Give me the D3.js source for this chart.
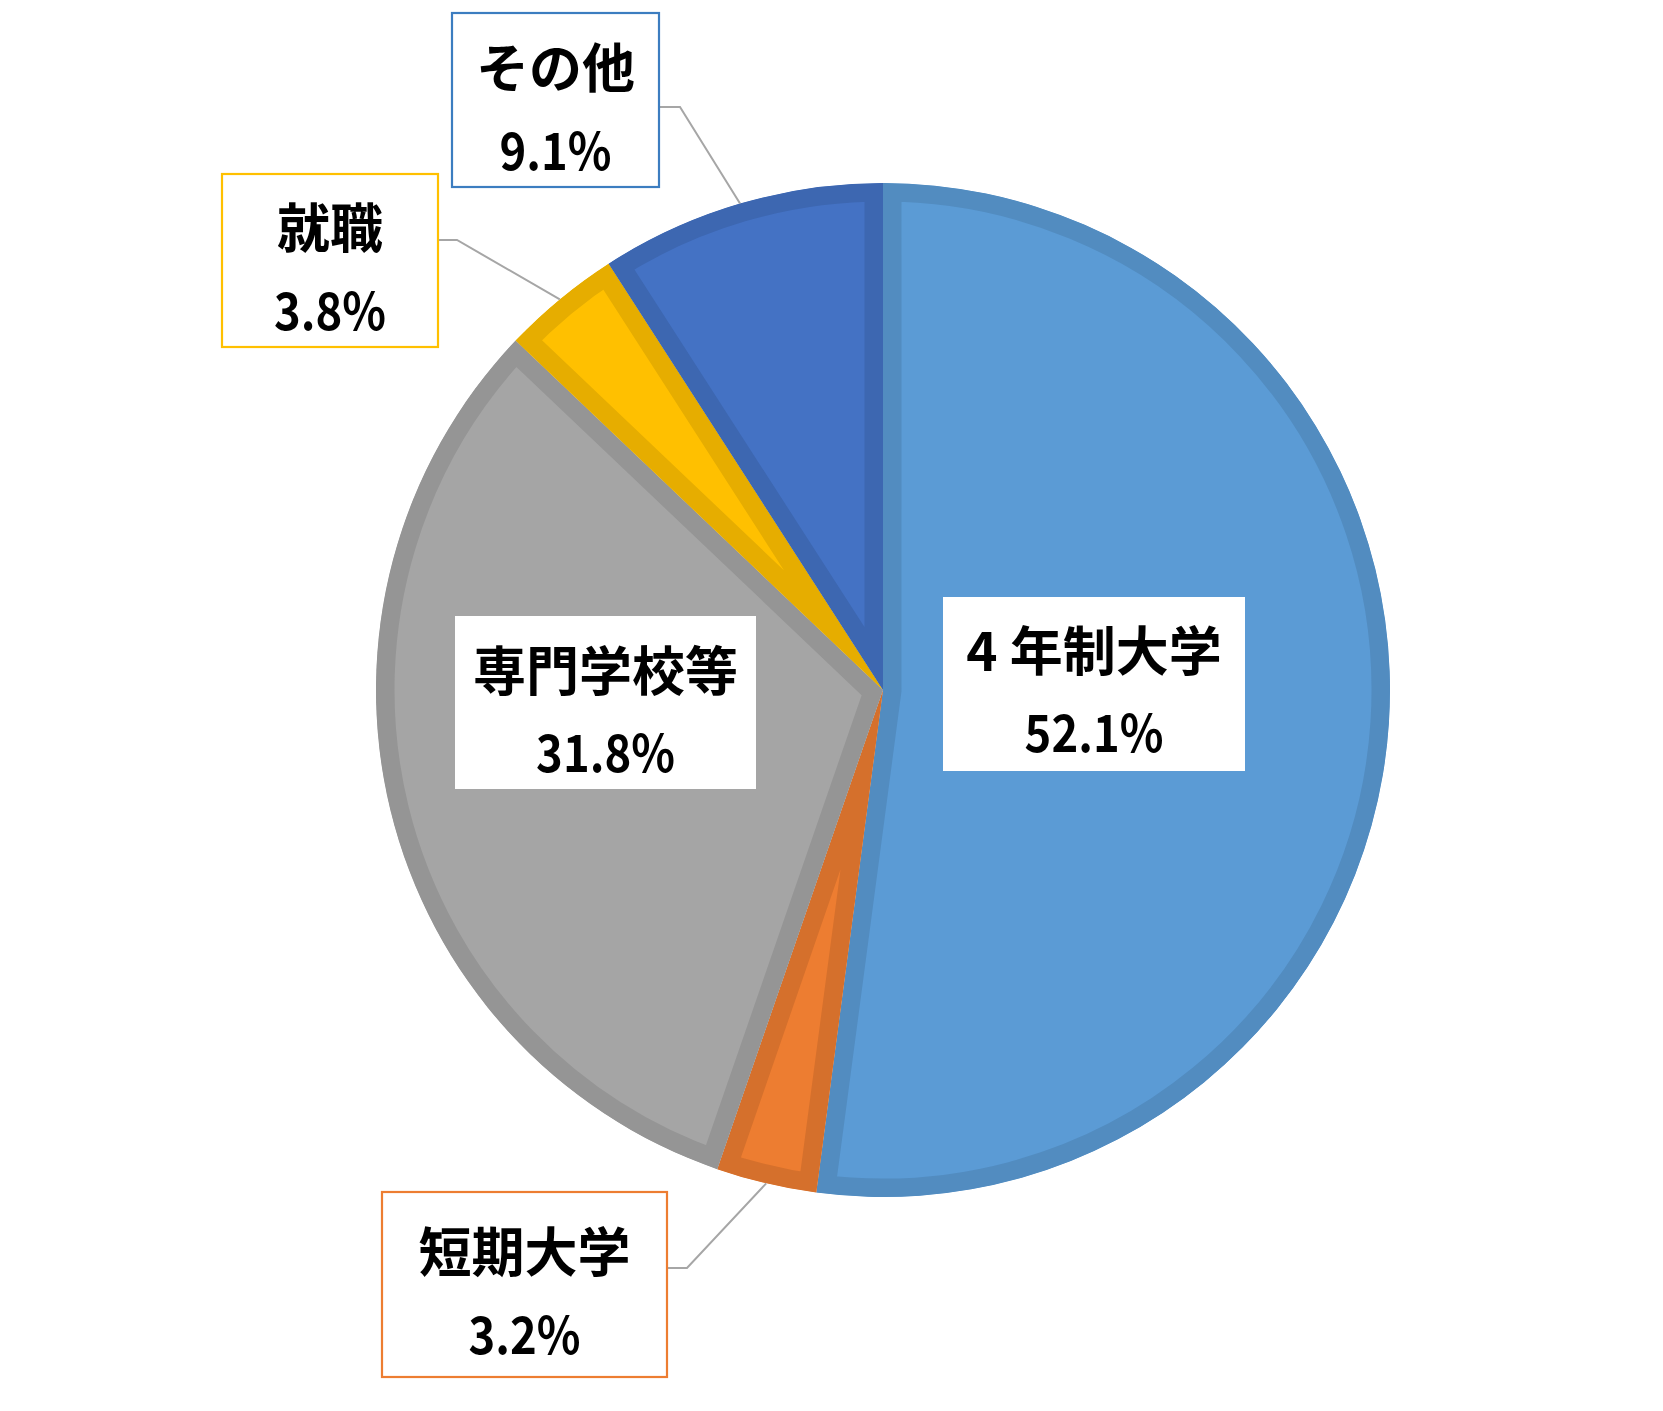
<!DOCTYPE html>
<html>
<head>
<meta charset="utf-8">
<script src="https://cdn.jsdelivr.net/npm/d3@7"></script>
<style>
  html, body { margin: 0; padding: 0; background: #ffffff; }
  svg { display: block; }
  text { font-family: "Noto Sans CJK JP", "Noto Sans", sans-serif; font-weight: bold; fill: #000; }
</style>
</head>
<body>
<svg id="chart" width="1663" height="1411"></svg>
<script>
// ---- data ----
const categories = ["4 年制大学", "短期大学", "専門学校等", "就職", "その他"];
const values = [52.1, 3.2, 31.8, 3.8, 9.1];
const fillColors = ["#5B9BD5", "#ED7D31", "#A5A5A5", "#FFC000", "#4472C4"];
const edgeColors = ["#528CC0", "#D5702C", "#959595", "#E6AD00", "#3D67B1"];
const boxBorderColors = [null, "#ED7D31", null, "#FFC000", "#3C7DC0"];

// ---- layout (label boxes) ----
const boxes = [
  { x: 943, y: 597, w: 302, h: 174, l1: 50.5, l2: 133, leader: null },
  { x: 382, y: 1192, w: 285, h: 185, l1: 57, l2: 140, leader: { y: 1268, elbow: 20 } },
  { x: 455, y: 616, w: 301, h: 173, l1: 52, l2: 134, leader: null },
  { x: 222, y: 174, w: 216, h: 173, l1: 51, l2: 133.5, leader: { y: 240, elbow: 19 } },
  { x: 452, y: 13, w: 207, h: 174, l1: 52, l2: 134.5, leader: { y: 107, elbow: 21 } }
];

const cx = 883, cy = 690, R = 507, edgeW = 18.5;

const svg = d3.select("#chart");
const pie = d3.pie().sort(null).value(d => d).startAngle(0).endAngle(2 * Math.PI);
const arcs = pie(values);
const arc = d3.arc().innerRadius(0).outerRadius(R);

const g = svg.append("g").attr("transform", `translate(${cx},${cy})`);
const defs = svg.append("defs");

arcs.forEach((a, i) => {
  defs.append("clipPath").attr("id", "clip" + i)
    .append("path").attr("d", arc(a));
});

g.selectAll("path.slice").data(arcs).enter().append("path")
  .attr("class", "slice")
  .attr("d", arc)
  .attr("fill", (d, i) => fillColors[i])
  .attr("stroke", (d, i) => edgeColors[i])
  .attr("stroke-width", edgeW * 2)
  .attr("stroke-linejoin", "miter")
  .attr("clip-path", (d, i) => `url(#clip${i})`);

// leader lines
arcs.forEach((a, i) => {
  const b = boxes[i];
  if (!b.leader) return;
  const mid = (a.startAngle + a.endAngle) / 2;
  const px = cx + R * Math.sin(mid);
  const py = cy - R * Math.cos(mid);
  const bx = b.x + b.w;
  svg.append("polyline")
    .attr("points", `${bx},${b.leader.y} ${bx + b.leader.elbow},${b.leader.y} ${px},${py}`)
    .attr("fill", "none")
    .attr("stroke", "#A6A6A6")
    .attr("stroke-width", 2);
});

// label boxes
const fmt = d3.format(".1f");
arcs.forEach((a, i) => {
  const b = boxes[i];
  const lg = svg.append("g");
  lg.append("rect")
    .attr("x", b.x).attr("y", b.y).attr("width", b.w).attr("height", b.h)
    .attr("fill", "#ffffff")
    .attr("stroke", boxBorderColors[i] || "none")
    .attr("stroke-width", boxBorderColors[i] ? 2.2 : 0);
  lg.append("text")
    .attr("x", b.x + b.w / 2).attr("y", b.y + b.l1)
    .attr("text-anchor", "middle").attr("dominant-baseline", "central")
    .style("font-size", "53px")
    .text(categories[i]);
  lg.append("text")
    .attr("transform", `translate(${b.x + b.w / 2},${b.y + b.l2}) scale(0.89,1)`)
    .attr("text-anchor", "middle").attr("dominant-baseline", "central")
    .style("font-size", "51px")
    .text(fmt(values[i]) + "%");
});
</script>
</body>
</html>
